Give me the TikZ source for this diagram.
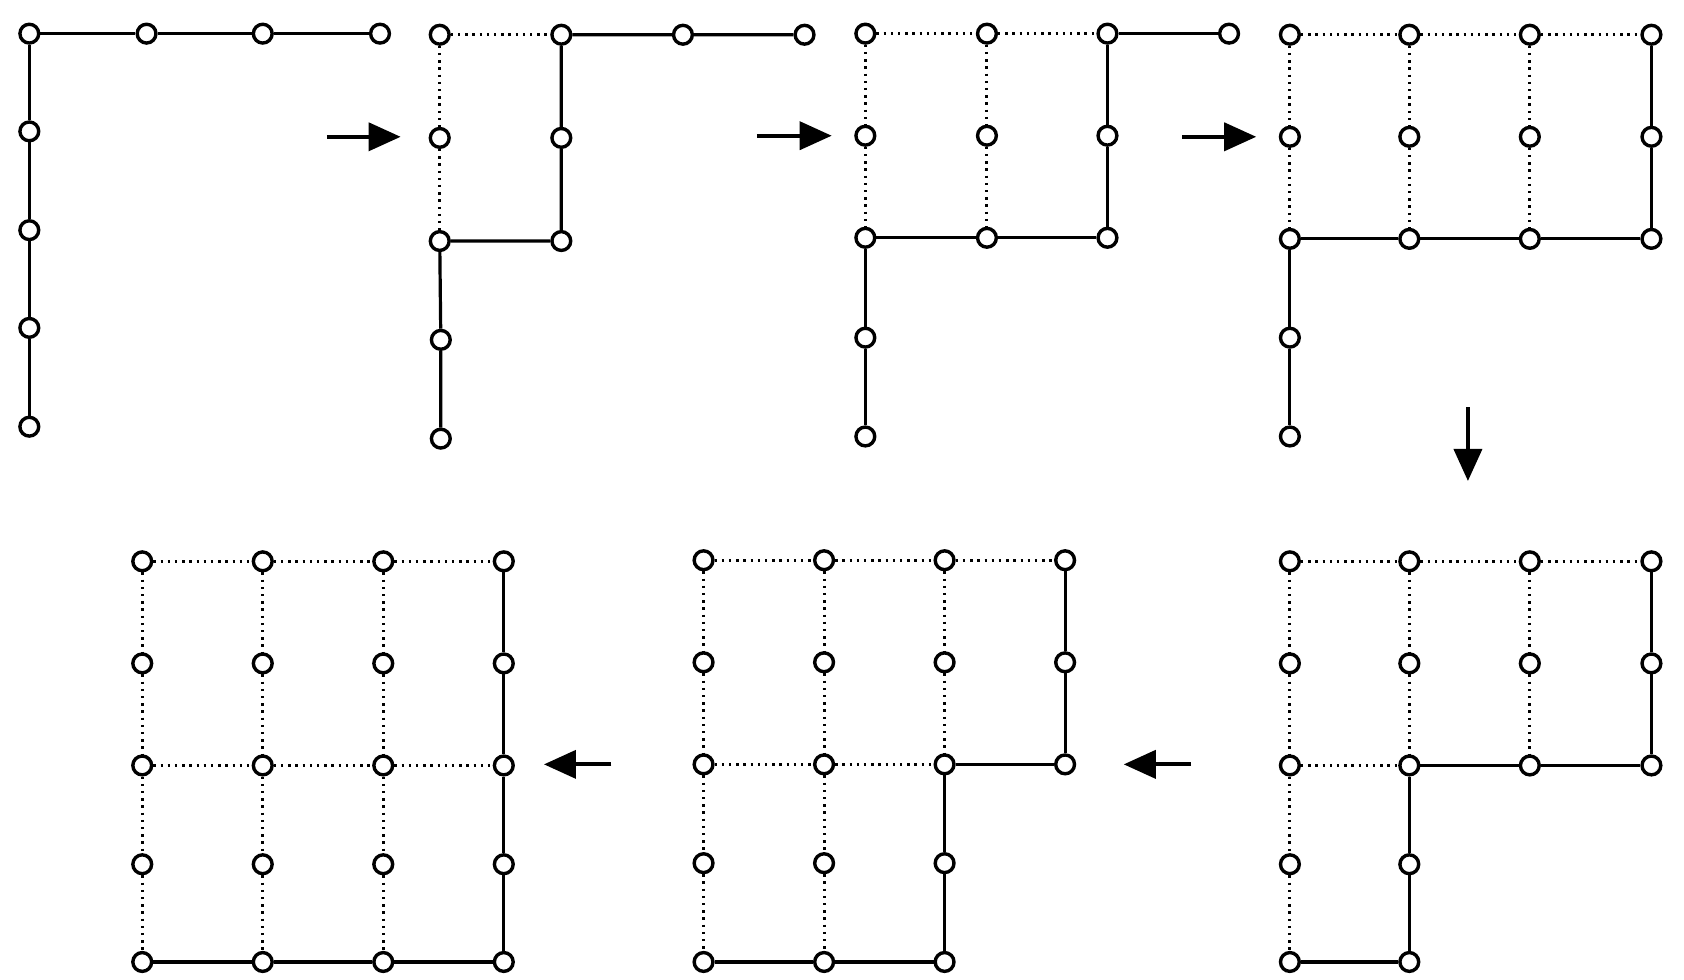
\documentclass[tikz,border=0pt]{standalone}
\usetikzlibrary{arrows.meta}
\begin{document}
\begin{tikzpicture}[x=0.54288pt,y=-0.54287pt,
  pt/.style={circle,draw,fill=white,line width=1.7pt,minimum size=9.4pt,inner sep=0pt},
  sol/.style={line width=1.6pt},
  dotl/.style={line width=1.5pt,dash pattern=on 1.2pt off 2.4pt},
  arr/.style={line width=1.9pt,-{Triangle[length=16pt,width=14pt]}}]
\fill[white] (0,0) rectangle (1551,901.7);
\useasboundingbox (0,0) rectangle (1551,901.7);
% Figure A
\node[pt] (A1) at (27,31) {};
\node[pt] (A2) at (27,121) {};
\node[pt] (A3) at (27,212) {};
\node[pt] (A4) at (27,302) {};
\node[pt] (A5) at (27,393) {};
\node[pt] (At2) at (135,31) {};
\node[pt] (At3) at (242,31) {};
\node[pt] (At4) at (350,31) {};
\draw[sol] (A1)--(At2) (At2)--(At3) (At3)--(At4);
\draw[sol] (A1)--(A2) (A2)--(A3) (A3)--(A4) (A4)--(A5);
% Figure B
\node[pt] (B11) at (405,32) {};
\node[pt] (B21) at (405,127) {};
\node[pt] (B31) at (405,222) {};
\node[pt] (B41) at (406,313) {};
\node[pt] (B51) at (406,404) {};
\node[pt] (B12) at (517,32) {};
\node[pt] (B22) at (517,127) {};
\node[pt] (B32) at (517,222) {};
\node[pt] (B13) at (629,32) {};
\node[pt] (B14) at (741,32) {};
\draw[dotl] (B11)--(B12) (B11)--(B21) (B21)--(B31);
\draw[sol] (B12)--(B13) (B13)--(B14) (B12)--(B22) (B22)--(B32) (B31)--(B32) (B31)--(B41) (B41)--(B51);
% Figure C
\foreach \r/\c in {1/1,1/2,1/3,1/4,2/1,2/2,2/3,3/1,3/2,3/3,4/1,5/1}{
  \pgfmathsetmacro\xx{{797,909,1020,1132}[\c-1]}
  \pgfmathsetmacro\yy{{31,125,219,311,402}[\r-1]}
  \node[pt] (C\r\c) at (\xx,\yy) {};
}
\draw[dotl] (C11)--(C12) (C12)--(C13) (C11)--(C21) (C21)--(C31) (C12)--(C22) (C22)--(C32);
\draw[sol] (C13)--(C14) (C13)--(C23) (C23)--(C33) (C31)--(C32) (C32)--(C33) (C31)--(C41) (C41)--(C51);
% Figure D
\foreach \r/\c in {1/1,1/2,1/3,1/4,2/1,2/2,2/3,2/4,3/1,3/2,3/3,3/4,4/1,5/1}{
  \pgfmathsetmacro\xx{{1188,1298,1409,1521}[\c-1]}
  \pgfmathsetmacro\yy{{32,126,220,311,402}[\r-1]}
  \node[pt] (D\r\c) at (\xx,\yy) {};
}
\draw[dotl] (D11)--(D12) (D12)--(D13) (D13)--(D14)
  (D11)--(D21) (D21)--(D31) (D12)--(D22) (D22)--(D32) (D13)--(D23) (D23)--(D33);
\draw[sol] (D14)--(D24) (D24)--(D34) (D31)--(D32) (D32)--(D33) (D33)--(D34) (D31)--(D41) (D41)--(D51);
% Figure E
\foreach \r/\c in {1/1,1/2,1/3,1/4,2/1,2/2,2/3,2/4,3/1,3/2,3/3,3/4,4/1,4/2,5/1,5/2}{
  \pgfmathsetmacro\xx{{1188,1298,1409,1521}[\c-1]}
  \pgfmathsetmacro\yy{{517,611,705,796,886}[\r-1]}
  \node[pt] (E\r\c) at (\xx,\yy) {};
}
\draw[dotl] (E11)--(E12) (E12)--(E13) (E13)--(E14)
  (E11)--(E21) (E21)--(E31) (E31)--(E41) (E41)--(E51)
  (E12)--(E22) (E22)--(E32) (E13)--(E23) (E23)--(E33) (E31)--(E32);
\draw[sol] (E14)--(E24) (E24)--(E34) (E32)--(E33) (E33)--(E34) (E32)--(E42) (E42)--(E52) (E51)--(E52);
% Figure F
\foreach \r/\c in {1/1,1/2,1/3,1/4,2/1,2/2,2/3,2/4,3/1,3/2,3/3,3/4,4/1,4/2,4/3,5/1,5/2,5/3}{
  \pgfmathsetmacro\xx{{648,759,870,981}[\c-1]}
  \pgfmathsetmacro\yy{{516,610,704,795,886}[\r-1]}
  \node[pt] (F\r\c) at (\xx,\yy) {};
}
\draw[dotl] (F11)--(F12) (F12)--(F13) (F13)--(F14) (F31)--(F32) (F32)--(F33)
  (F11)--(F21) (F21)--(F31) (F31)--(F41) (F41)--(F51)
  (F12)--(F22) (F22)--(F32) (F32)--(F42) (F42)--(F52)
  (F13)--(F23) (F23)--(F33);
\draw[sol] (F14)--(F24) (F24)--(F34) (F33)--(F34) (F33)--(F43) (F43)--(F53) (F51)--(F52) (F52)--(F53);
% Figure G
\foreach \r in {1,...,5}{
  \foreach \c in {1,...,4}{
    \pgfmathsetmacro\xx{{131,242,353,464}[\c-1]}
    \pgfmathsetmacro\yy{{517,611,705,796,886}[\r-1]}
    \node[pt] (G\r\c) at (\xx,\yy) {};
  }
}
\draw[dotl] (G11)--(G12) (G12)--(G13) (G13)--(G14) (G31)--(G32) (G32)--(G33) (G33)--(G34);
\foreach \c in {1,2,3}{
  \draw[dotl] (G1\c)--(G2\c) (G2\c)--(G3\c) (G3\c)--(G4\c) (G4\c)--(G5\c);
}
\draw[sol] (G14)--(G24) (G24)--(G34) (G34)--(G44) (G44)--(G54)
  (G51)--(G52) (G52)--(G53) (G53)--(G54);
% Arrows
\coordinate (p1s) at (301,126); \coordinate (p1e) at (369,126);
\coordinate (p2s) at (697,125); \coordinate (p2e) at (766,125);
\coordinate (p3s) at (1089,126); \coordinate (p3e) at (1157,126);
\coordinate (p4s) at (1352,375); \coordinate (p4e) at (1352,443);
\coordinate (p5s) at (1097,704); \coordinate (p5e) at (1035,704);
\coordinate (p6s) at (563,704); \coordinate (p6e) at (501,704);
\draw[arr] (p1s)--(p1e);
\draw[arr] (p2s)--(p2e);
\draw[arr] (p3s)--(p3e);
\draw[arr] (p4s)--(p4e);
\draw[arr] (p5s)--(p5e);
\draw[arr] (p6s)--(p6e);
\end{tikzpicture}
\end{document}
